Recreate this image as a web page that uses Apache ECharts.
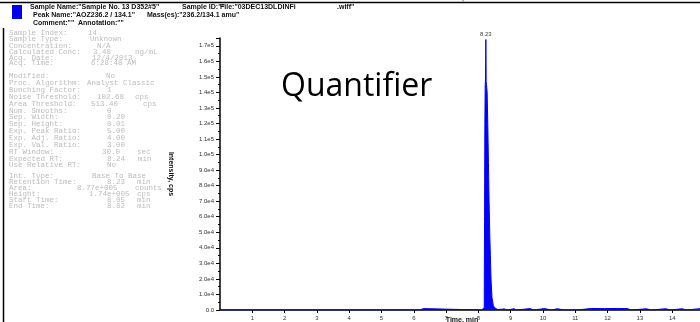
<!DOCTYPE html>
<html>
<head>
<meta charset="utf-8">
<script src="https://cdn.jsdelivr.net/npm/echarts@6/dist/echarts.min.js"></script>
<style>
html,body{margin:0;padding:0;background:#fff}
#chart{width:700px;height:322px}
</style>
</head>
<body>
<div id="chart"></div>
<script>
// XIC of AOZ 236.2/134.1 - time (min) vs intensity (cps)
var times = [0, 6.18, 6.22, 6.30, 6.34, 8.10, 8.15, 8.18, 8.19, 8.20, 8.21, 8.22, 8.23, 8.24, 8.25, 8.27,
  8.29, 8.31, 8.33, 8.35, 8.37, 8.39, 8.42, 8.46, 8.50, 8.55, 8.60, 8.62, 8.65, 8.80, 8.84, 8.90, 8.93,
  9.10, 9.14, 9.18, 9.22, 9.60, 9.64, 9.70, 9.74, 10.05, 10.10, 10.25, 10.30, 10.45, 10.50, 10.65, 10.70,
  10.80, 11.05, 11.10, 11.50, 11.90, 12.30, 12.60, 12.65, 12.75, 12.80, 13.20, 13.25, 13.35, 13.40, 13.80,
  13.85, 13.95, 14.00, 14.30, 14.35, 14.45, 14.50, 14.86];
var intensity = [0, 0, 900, 900, 0, 0, 200, 1500, 60000, 120000, 145000, 148000, 174000, 147000, 145000, 140000,
  120000, 95000, 70000, 50000, 35000, 20000, 8000, 3000, 1500, 600, 200, 0, 800, 700, 0, 0, 900,
  800, 0, 0, 1000, 900, 0, 0, 800, 900, 0, 0, 700, 800, 0, 0, 900,
  0, 0, 800, 1000, 900, 1000, 900, 0, 0, 900, 800, 0, 0, 900, 800,
  0, 0, 900, 800, 0, 0, 900, 900];
var peakRT = 8.23;
var peakHeight = 174000;

var headerTexts = [
  'Sample Name:"Sample No. 13 D352#5"', 'Sample ID:""', 'File:"03DEC13DLDINFi', '.wiff"',
  'Peak Name:"AOZ236.2 / 134.1"', 'Mass(es):"236.2/134.1 amu"',
  'Comment:""', 'Annotation:""'
];

var infoLabels = ['Sample Index:', 'Sample Type:', 'Concentration:', 'Calculated Conc:', 'Acq. Date:', 'Acq. Time:',
  'Modified:', 'Proc. Algorithm:', 'Bunching Factor:', 'Noise Threshold:', 'Area Threshold:', 'Num. Smooths:',
  'Sep. Width:', 'Sep. Height:', 'Exp. Peak Ratio:', 'Exp. Adj. Ratio:', 'Exp. Val. Ratio:', 'RT Window:',
  'Expected RT:', 'Use Relative RT:',
  'Int. Type:', 'Retention Time:', 'Area:', 'Height:', 'Start Time:', 'End Time:'];
var infoValues = ['14', 'Unknown', 'N/A', '3.48', '12/4/2013', '6:28:48 AM',
  'No', 'Analyst Classic', '1', '102.68', '513.40', '0',
  '0.20', '0.01', '5.00', '4.00', '3.00', '30.0',
  '8.24', 'No',
  'Base To Base', '8.23', '8.77e+005', '1.74e+005', '8.05', '8.82'];
var infoUnits = ['', '', '', 'ng/mL', '', '',
  '', '', '', 'cps', 'cps', '',
  '', '', '', '', '', 'sec',
  'min', '',
  '', 'min', 'counts', 'cps', 'min', 'min'];

// layout of the side panel
var infoY = [33, 39, 46, 52, 58, 63, 76, 83, 90, 97, 104, 111, 117, 124, 131, 138, 145, 152, 159, 165,
  176, 182, 188, 194, 200, 206];
var valueX = [88, 90, 97, 93, 92, 91, 106, 87, 107, 97, 91, 107, 107, 107, 107, 107, 107, 102, 107, 107,
  92, 107, 77, 89, 107, 107];
var unitX = [0, 0, 0, 135, 0, 0, 0, 0, 0, 135, 143, 0, 0, 0, 0, 0, 0, 137, 138, 0, 0, 137, 135, 137, 137, 137];
var headerPos = [[30, 7], [182, 7], [220, 7], [337, 7], [33, 15], [147, 15], [33, 23], [78, 23]];

var grey = '#bcbcbc';
var axisTitle = {fontSize: 7, fontWeight: 'bold', fontFamily: 'Liberation Sans', fill: '#111', align: 'center'};
var graphics = [];
headerTexts.forEach(function (t, i) {
  graphics.push({type: 'text', x: headerPos[i][0], y: headerPos[i][1],
    style: {text: t, fontSize: 7, fontWeight: 'bold', fontFamily: 'Liberation Sans', fill: '#111', verticalAlign: 'middle'}});
});
infoLabels.forEach(function (lab, i) {
  var st = {fontSize: 7.5, fontFamily: 'Liberation Mono', fill: grey, verticalAlign: 'middle'};
  graphics.push({type: 'text', x: 9, y: infoY[i], style: Object.assign({text: lab}, st)});
  graphics.push({type: 'text', x: valueX[i], y: infoY[i], style: Object.assign({text: infoValues[i]}, st)});
  if (infoUnits[i]) graphics.push({type: 'text', x: unitX[i], y: infoY[i], style: Object.assign({text: infoUnits[i]}, st)});
});
graphics.push({type: 'rect', shape: {x: 12, y: 5, width: 10, height: 14}, style: {fill: '#0000ee'}});
graphics.push({type: 'line', shape: {x1: 0, y1: 2.5, x2: 700, y2: 2.5}, style: {stroke: '#000', lineWidth: 1.5}});
graphics.push({type: 'line', shape: {x1: 3.5, y1: 28, x2: 3.5, y2: 322}, style: {stroke: '#000', lineWidth: 1.5}});
// x-axis titles: cut-off one of the panel above, and this panel's own at the bottom edge
graphics.push({type: 'text', x: 462, y: 2, style: Object.assign({text: 'Time, min', verticalAlign: 'bottom'}, axisTitle)});
graphics.push({type: 'text', x: 462, y: 317, style: Object.assign({text: 'Time, min', verticalAlign: 'top'}, axisTitle)});
graphics.push({type: 'text', x: 281, y: 87, style: {text: 'Quantifier', fontSize: 32,
  fontFamily: 'Open Sans', fill: '#000', verticalAlign: 'middle'}});

var chart = echarts.init(document.getElementById('chart'));
chart.setOption({
  animation: false,
  grid: {left: 220, right: 0, top: 38, bottom: 12, containLabel: false, outerBoundsMode: 'none'},
  xAxis: {
    type: 'value', min: 0, max: 14.86, interval: 1,
    axisLine: {lineStyle: {color: '#000', width: 1.5}},
    axisTick: {length: 3, lineStyle: {color: '#000'}},
    axisLabel: {fontSize: 6, color: '#333', margin: 5, showMinLabel: false, showMaxLabel: false},
    splitLine: {show: false}
  },
  yAxis: {
    type: 'value', min: 0, max: 175000, interval: 10000,
    name: 'Intensity, cps', nameLocation: 'middle', nameGap: 46, nameRotate: -90,
    nameTextStyle: {fontSize: 7, fontWeight: 'bold', fontFamily: 'Liberation Sans', color: '#111'},
    axisLine: {show: true, lineStyle: {color: '#000', width: 1.5}},
    axisTick: {show: true, length: 4, lineStyle: {color: '#000'}},
    minorTick: {show: true, splitNumber: 2, length: 2, lineStyle: {color: '#000'}},
    axisLabel: {fontSize: 6, color: '#333', margin: 6, showMaxLabel: false,
      formatter: function (v) { return v === 0 ? '0.0' : v.toExponential(1).replace('e+', 'e'); }},
    splitLine: {show: false}
  },
  series: [{
    type: 'line',
    data: times.map(function (t, i) { return [t, intensity[i]]; }),
    showSymbol: false, symbol: 'none',
    lineStyle: {color: '#0000ff', width: 1},
    areaStyle: {color: '#0000ff', opacity: 1},
    markPoint: {
      symbol: 'circle', symbolSize: 0, silent: true,
      label: {show: true, position: 'top', distance: 2, fontSize: 6, color: '#444',
        formatter: peakRT.toFixed(2)},
      data: [{coord: [peakRT, peakHeight]}]
    }
  }],
  graphic: graphics
});
</script>
</body>
</html>
